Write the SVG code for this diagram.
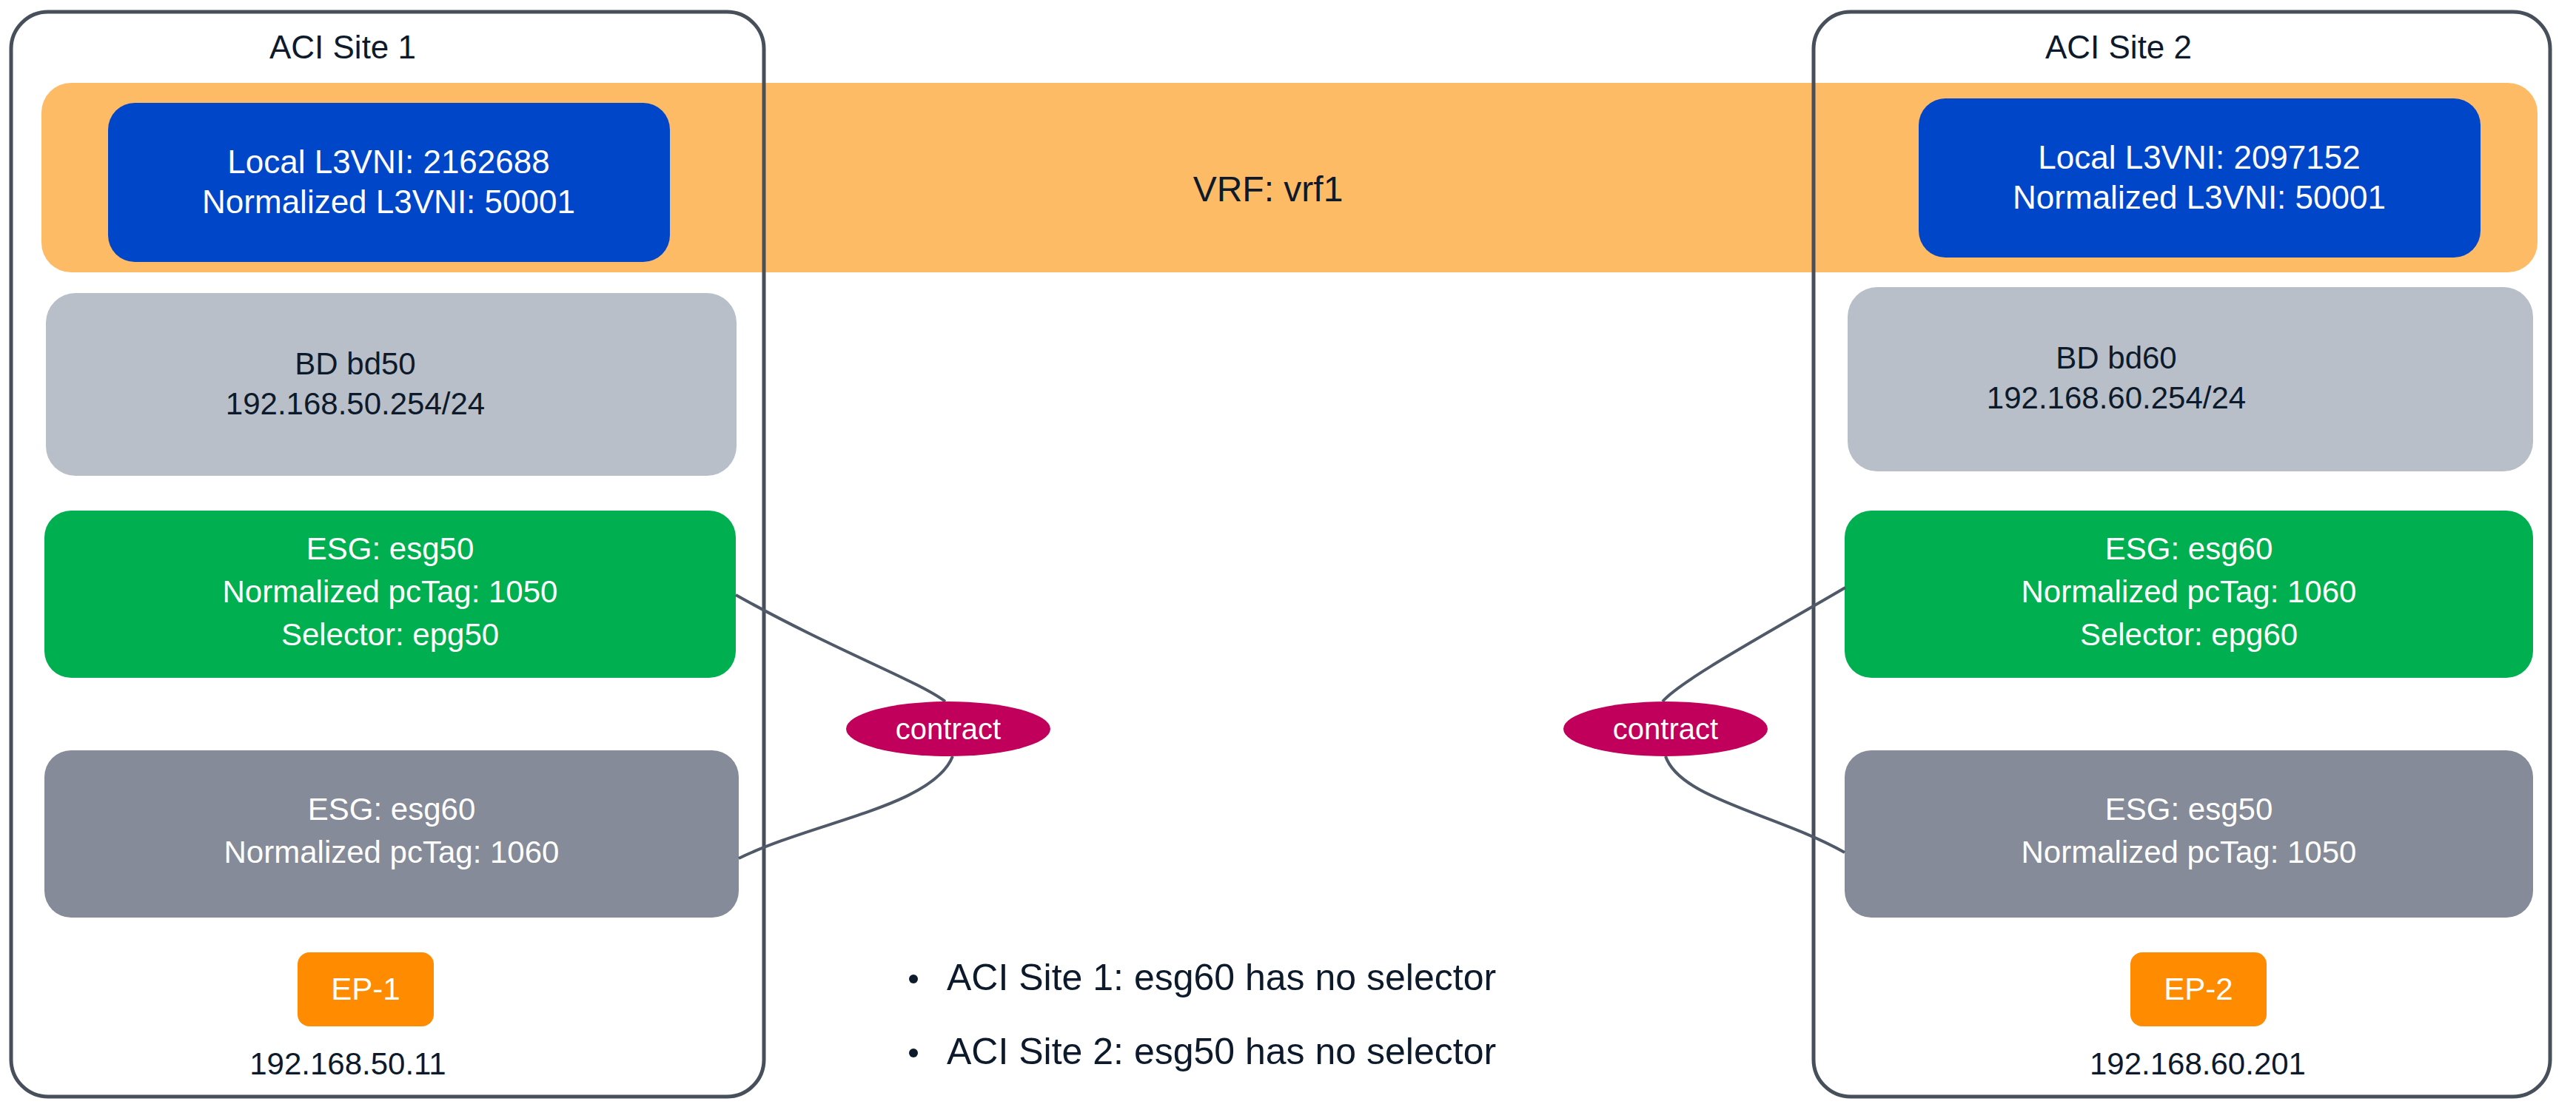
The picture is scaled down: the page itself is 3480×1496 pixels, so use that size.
<svg xmlns="http://www.w3.org/2000/svg" width="3480" height="1496" viewBox="0 0 3480 1496">
<style>
text{font-family:"Liberation Sans",Arial,sans-serif;text-anchor:middle}
.w{fill:#fff;font-size:42px}
.d{fill:#0d1a2b;font-size:42px}
.site{fill:none;stroke:#474f5b;stroke-width:5}
.con{fill:none;stroke:#4f5968;stroke-width:4}
</style>
<rect width="3480" height="1496" fill="#fff"/>
<g id="vrf">
<rect x="56" y="112" width="3372" height="256" rx="40" fill="#febb66"/>
<text x="1713" y="272" class="d" style="font-size:48px">VRF: vrf1</text>
</g>
<g id="site1">
<rect class="site" x="15" y="16" width="1017" height="1466" rx="50"/>
<text x="463" y="79" class="d" style="font-size:44px">ACI Site 1</text>
</g>
<g id="site2">
<rect class="site" x="2450" y="16" width="995" height="1466" rx="50"/>
<text x="2862" y="79" class="d" style="font-size:44px">ACI Site 2</text>
</g>
<g id="l3vni1"><rect x="146" y="139" width="759" height="215" rx="36" fill="#0046c8"/>
<text x="525" y="234" class="w" style="font-size:44px">Local L3VNI: 2162688</text>
<text x="525" y="288" class="w" style="font-size:44px">Normalized L3VNI: 50001</text></g>
<g id="l3vni2"><rect x="2592" y="133" width="759" height="215" rx="36" fill="#0046c8"/>
<text x="2971" y="228" class="w" style="font-size:44px">Local L3VNI: 2097152</text>
<text x="2971" y="282" class="w" style="font-size:44px">Normalized L3VNI: 50001</text></g>
<g id="bd1"><rect x="62" y="396" width="933" height="247" rx="40" fill="#b8bfc8"/>
<text x="480" y="506" class="d">BD bd50</text>
<text x="480" y="560" class="d">192.168.50.254/24</text></g>
<g id="bd2"><rect x="2496" y="388" width="926" height="249" rx="40" fill="#b8bfc8"/>
<text x="2859" y="498" class="d">BD bd60</text>
<text x="2859" y="552" class="d">192.168.60.254/24</text></g>
<g id="esg1"><rect x="60" y="690" width="934" height="226" rx="36" fill="#00b050"/>
<text x="527" y="756" class="w">ESG: esg50</text>
<text x="527" y="814" class="w">Normalized pcTag: 1050</text>
<text x="527" y="872" class="w">Selector: epg50</text></g>
<g id="esg2"><rect x="2492" y="690" width="930" height="226" rx="36" fill="#00b050"/>
<text x="2957" y="756" class="w">ESG: esg60</text>
<text x="2957" y="814" class="w">Normalized pcTag: 1060</text>
<text x="2957" y="872" class="w">Selector: epg60</text></g>
<g id="esg60s1"><rect x="60" y="1014" width="938" height="226" rx="36" fill="#858b98"/>
<text x="529" y="1108" class="w">ESG: esg60</text>
<text x="529" y="1166" class="w">Normalized pcTag: 1060</text></g>
<g id="esg50s2"><rect x="2492" y="1014" width="930" height="226" rx="36" fill="#858b98"/>
<text x="2957" y="1108" class="w">ESG: esg50</text>
<text x="2957" y="1166" class="w">Normalized pcTag: 1050</text></g>
<g id="ep1"><rect x="402" y="1287" width="184" height="100" rx="16" fill="#ff8c00"/>
<text x="494" y="1351" class="w">EP-1</text>
<text x="470" y="1452" class="d">192.168.50.11</text></g>
<g id="ep2"><rect x="2878" y="1287" width="184" height="100" rx="16" fill="#ff8c00"/>
<text x="2970" y="1351" class="w">EP-2</text>
<text x="2969" y="1452" class="d">192.168.60.201</text></g>
<g id="connectors">
<path class="con" d="M994 804 C1130 880 1240 920 1277 948"/>
<path class="con" d="M1287 1022 C1260 1090 1100 1110 998 1160"/>
<path class="con" d="M2493 794 C2380 860 2270 920 2246 948"/>
<path class="con" d="M2250 1022 C2270 1080 2400 1100 2492 1152"/>
</g>
<g id="contract1"><ellipse cx="1281" cy="985" rx="138" ry="37" fill="#c0005a"/>
<text x="1281" y="999" class="w" style="font-size:40px">contract</text></g>
<g id="contract2"><ellipse cx="2250" cy="985" rx="138" ry="37" fill="#c0005a"/>
<text x="2250" y="999" class="w" style="font-size:40px">contract</text></g>
<g id="notes" style="font-size:50px;fill:#0d1a2b">
<circle cx="1234" cy="1323" r="6" fill="#0d1a2b"/>
<text x="1279" y="1338" style="text-anchor:start;font-size:50px;fill:#0d1a2b">ACI Site 1: esg60 has no selector</text>
<circle cx="1234" cy="1423" r="6" fill="#0d1a2b"/>
<text x="1279" y="1438" style="text-anchor:start;font-size:50px;fill:#0d1a2b">ACI Site 2: esg50 has no selector</text>
</g>
</svg>
